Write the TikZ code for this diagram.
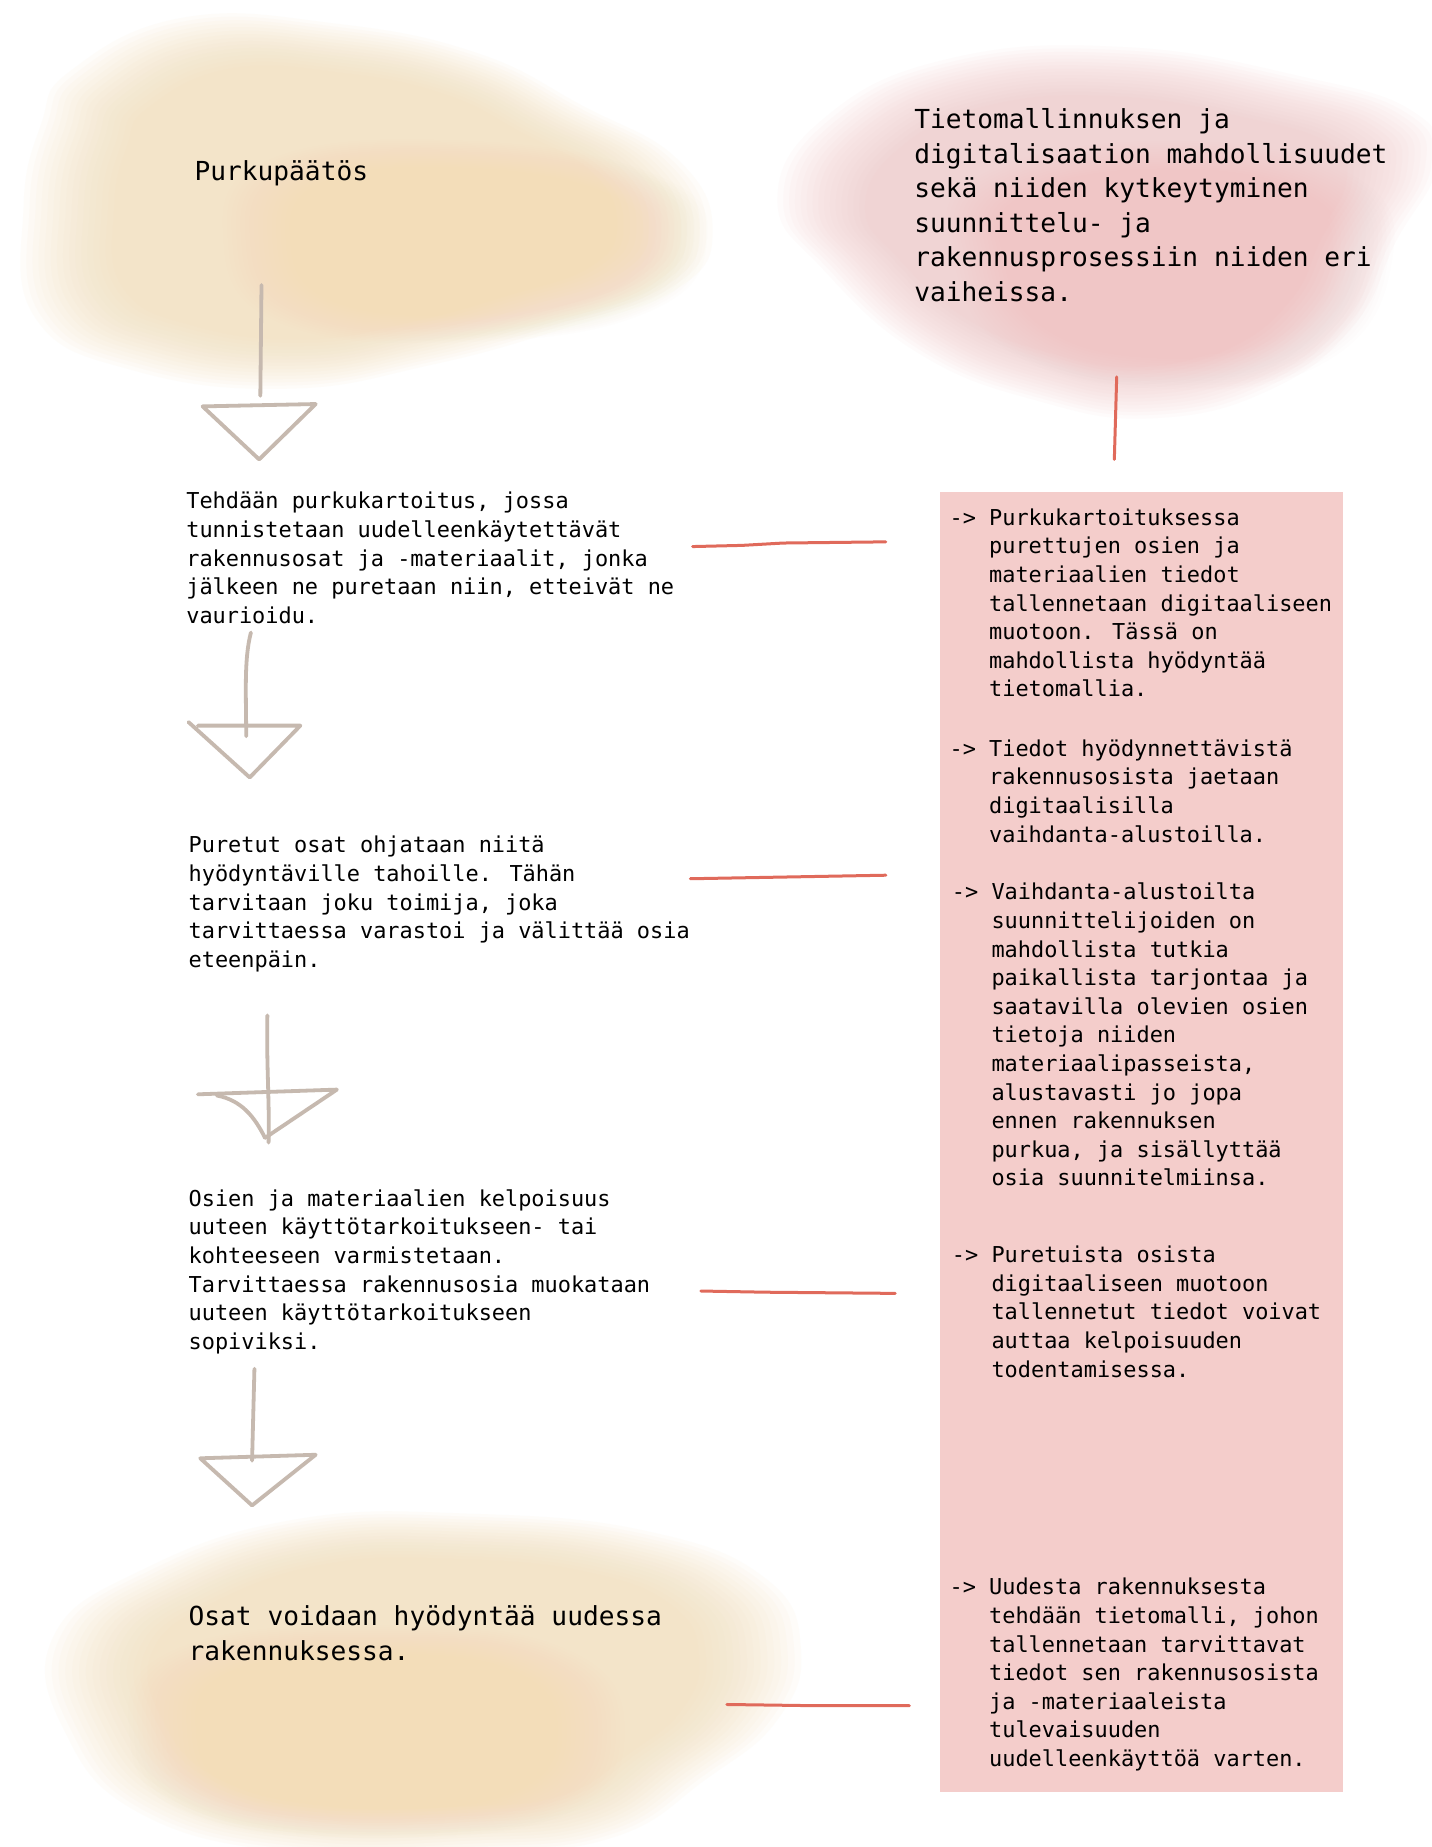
\documentclass[tikz,border=0pt]{standalone}
\usepackage{fontspec}
\setmainfont{DejaVu Sans Mono}
\newfontfamily\monofam{DejaVu Sans Mono}
\newcommand\ind{\hphantom{-> }}
% soft, layered blot of colour around a centre (#4: opacity of each layer)
\newcommand\softblot[4]{%
  \foreach \k in {0,...,15}{%
    \pgfmathsetmacro\sc{1-0.018*\k}%
    \begin{scope}[shift={#2}, scale=\sc]
      \fill[#1, opacity=#4] plot[smooth cycle, tension=0.75] coordinates {#3};
    \end{scope}%
  }}
\definecolor{sand}{HTML}{F3DDB8}
\definecolor{rose}{HTML}{F0C6C6}
\definecolor{boxrose}{HTML}{F4CDCB}
\definecolor{redline}{HTML}{E06A5B}
\definecolor{taupe}{HTML}{C6B9AF}
\begin{document}
\begin{tikzpicture}[x=1.1778pt, y=-1.1778pt,
  body/.style={font=\monofam\fontsize{21.9}{28.6}\selectfont, align=left, inner sep=0pt, anchor=base west},
  big/.style={font=\monofam\fontsize{26.2}{34.6}\selectfont, align=left, inner sep=0pt, anchor=base west},
  sketch/.style={draw=taupe, line width=3.8pt, line cap=round, line join=round},
  tie/.style={draw=redline, line width=3pt, line cap=round}]
\useasboundingbox (0,0) rectangle (1215,1568);
\fill[white] (0,0) rectangle (1215,1568);

% colour blots behind the headings
\softblot{sand}{(305,175)}{(-245,-115) (-150,-160) (-20,-155) (100,-130) (190,-85) (270,-40) (300,20) (270,70) (170,105) (60,135) (-60,155) (-190,140) (-275,95) (-285,0) (-270,-70)}{0.07}
\softblot{sand}{(400,205)}{(-170,-70) (0,-85) (160,-55) (200,0) (150,60) (0,85) (-160,70) (-210,0)}{0.03}
\softblot{rose}{(935,195)}{(-235,-95) (-130,-145) (20,-155) (170,-130) (265,-100) (285,-55) (250,10) (215,80) (145,135) (45,160) (-55,145) (-155,105) (-235,35) (-275,-25)}{0.065}
\softblot{rose}{(990,220)}{(-160,-70) (0,-100) (160,-70) (190,10) (130,90) (0,110) (-130,80) (-180,0)}{0.03}
\softblot{sand}{(360,1428)}{(-240,-95) (-110,-138) (40,-143) (190,-128) (290,-88) (320,-28) (300,32) (240,82) (160,132) (40,145) (-110,145) (-240,112) (-305,42) (-315,-38)}{0.07}
\softblot{sand}{(320,1470)}{(-170,-70) (0,-90) (160,-70) (210,0) (160,70) (0,90) (-160,70) (-210,0)}{0.03}

% information column
\fill[boxrose] (798,418) rectangle (1140,1521);

% texts (anchored at the baseline of their last line)
\node[big]  (purku) at (165,153) {Purkupäätös};
\node[big]  (info)  at (776,{109+5*29.38}) {Tietomallinnuksen ja\\digitalisaation mahdollisuudet\\sekä niiden kytkeytyminen\\suunnittelu- ja\\rakennusprosessiin niiden eri\\vaiheissa.};
\node[body] (s1) at (158,{432+4*24.28}) {Tehdään purkukartoitus, jossa\\tunnistetaan uudelleenkäytettävät\\rakennusosat ja -materiaalit, jonka\\jälkeen ne puretaan niin, etteivät ne\\vaurioidu.};
\node[body] (s2) at (160,{724+4*24.28}) {Puretut osat ohjataan niitä\\hyödyntäville tahoille. Tähän\\tarvitaan joku toimija, joka\\tarvittaessa varastoi ja välittää osia\\eteenpäin.};
\node[body] (s3) at (160,{1024+5*24.28}) {Osien ja materiaalien kelpoisuus\\uuteen käyttötarkoitukseen- tai\\kohteeseen varmistetaan.\\Tarvittaessa rakennusosia muokataan\\uuteen käyttötarkoitukseen\\sopiviksi.};
\node[big]  (s4) at (160,{1380+29.38}) {Osat voidaan hyödyntää uudessa\\rakennuksessa.};

\node[body] (p1) at (806,{446+6*24.28}) {-> Purkukartoituksessa\\\ind purettujen osien ja\\\ind materiaalien tiedot\\\ind tallennetaan digitaaliseen\\\ind muotoon. Tässä on\\\ind mahdollista hyödyntää\\\ind tietomallia.};
\node[body] (p2) at (806,{642+3*24.28}) {-> Tiedot hyödynnettävistä\\\ind rakennusosista jaetaan\\\ind digitaalisilla\\\ind vaihdanta-alustoilla.};
\node[body] (p3) at (808,{764+10*24.28}) {-> Vaihdanta-alustoilta\\\ind suunnittelijoiden on\\\ind mahdollista tutkia\\\ind paikallista tarjontaa ja\\\ind saatavilla olevien osien\\\ind tietoja niiden\\\ind materiaalipasseista,\\\ind alustavasti jo jopa\\\ind ennen rakennuksen\\\ind purkua, ja sisällyttää\\\ind osia suunnitelmiinsa.};
\node[body] (p4) at (808,{1072+4*24.28}) {-> Puretuista osista\\\ind digitaaliseen muotoon\\\ind tallennetut tiedot voivat\\\ind auttaa kelpoisuuden\\\ind todentamisessa.};
\node[body] (p5) at (806,{1354+6*24.28}) {-> Uudesta rakennuksesta\\\ind tehdään tietomalli, johon\\\ind tallennetaan tarvittavat\\\ind tiedot sen rakennusosista\\\ind ja -materiaaleista\\\ind tulevaisuuden\\\ind uudelleenkäyttöä varten.};

% hand-drawn flow arrows
\coordinate (a1s) at (222,242); \coordinate (a1e) at (221,336);
\coordinate (a1l) at (172,345); \coordinate (a1r) at (268,343); \coordinate (a1t) at (220,390);
\draw[sketch] (a1s) -- (a1e);
\draw[sketch] (a1l) -- (a1r) -- (a1t) -- cycle;

\coordinate (a2s) at (213,537); \coordinate (a2e) at (209,625);
\coordinate (a2l) at (160,613); \coordinate (a2r) at (255,616); \coordinate (a2t) at (212,660);
\draw[sketch] (a2s) .. controls (207,560) and (209,590) .. (a2e);
\draw[sketch] (a2l) -- (a2t) -- (a2r) -- (168,616);

\coordinate (a3s) at (227,862); \coordinate (a3e) at (228,970);
\coordinate (a3l) at (168,929); \coordinate (a3r) at (286,925); \coordinate (a3t) at (225,966);
\draw[sketch] (a3s) .. controls (226,900) and (229,940) .. (a3e);
\draw[sketch] (a3l) -- (a3r) -- (a3t);
\draw[sketch] (184,930) .. controls (205,934) and (216,948) .. (a3t);

\coordinate (a4s) at (216,1162); \coordinate (a4e) at (214,1240);
\coordinate (a4l) at (170,1238); \coordinate (a4r) at (268,1235); \coordinate (a4t) at (214,1278);
\draw[sketch] (a4s) -- (a4e);
\draw[sketch] (a4l) -- (a4r) -- (a4t) -- cycle;

% red ties from the steps to the information column
\coordinate (r0s) at (948,320); \coordinate (r0e) at (946,390);
\draw[tie] (r0s) -- (r0e);
\coordinate (r1s) at (588,464); \coordinate (r1e) at (752,460);
\draw[tie] (r1s) -- (630,463) -- (665,461) -- (r1e);
\coordinate (r2s) at (586,746); \coordinate (r2e) at (752,743);
\draw[tie] (r2s) -- (r2e);
\coordinate (r3s) at (595,1096); \coordinate (r3e) at (760,1098);
\draw[tie] (r3s) -- (650,1097) -- (r3e);
\coordinate (r4s) at (617,1447); \coordinate (r4e) at (772,1448);
\draw[tie] (r4s) -- (690,1448) -- (r4e);
\end{tikzpicture}
\end{document}
